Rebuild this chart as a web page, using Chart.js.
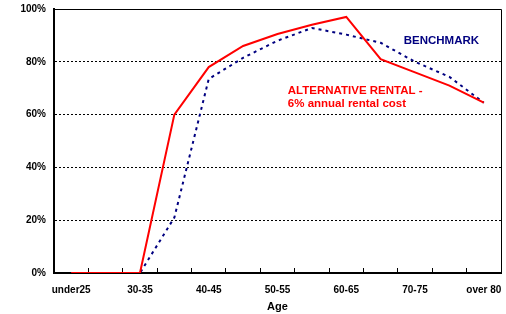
<!DOCTYPE html>
<html>
<head>
<meta charset="utf-8">
<script src="https://cdn.jsdelivr.net/npm/chart.js@4.4.0/dist/chart.umd.min.js"></script>
<style>
  html, body { margin: 0; padding: 0; background: #fff; }
  #wrap { width: 506px; height: 314px; }
</style>
</head>
<body>
<div id="wrap"><canvas id="ageChart" width="506" height="314"></canvas></div>
<script>
// age bands on the x axis
const ageBands = ['under25', '25-30', '30-35', '35-40', '40-45', '45-50', '50-55',
                  '55-60', '60-65', '65-70', '70-75', '75-80', 'over 80'];

// share (%) by age band
const alternativeRental = [0, 0, 0, 60, 78, 86, 90.5, 94, 97, 81, 76, 71, 64.5];
const benchmark = [0, 0, 0, 21, 73.5, 81.5, 88, 92.8, 90.3, 87.2, 80, 74.3, 64.5];

const yTicks = [0, 20, 40, 60, 80, 100];

const FONT = 'Liberation Sans, Arial, Helvetica, sans-serif';

// top + right frame of the plot area, plus the two text labels
const framePlugin = {
    id: 'frame',
    afterDraw(chart) {
        const { ctx, chartArea: a, scales } = chart;
        ctx.save();
        ctx.strokeStyle = '#000';
        ctx.lineWidth = 1;
        ctx.beginPath();
        ctx.moveTo(a.left, a.top + 0.5);
        ctx.lineTo(a.right + 0.5, a.top + 0.5);
        ctx.lineTo(a.right + 0.5, a.bottom);
        ctx.stroke();

        ctx.font = 'bold 11.5px ' + FONT;
        ctx.textAlign = 'left';
        ctx.textBaseline = 'middle';
        ctx.fillStyle = '#000080';
        ctx.fillText('BENCHMARK', scales.x.getPixelForValue(9.67), scales.y.getPixelForValue(87.9));
        ctx.fillStyle = '#ff0000';
        ctx.fillText('ALTERNATIVE RENTAL -', scales.x.getPixelForValue(6.3), scales.y.getPixelForValue(69.1));
        ctx.fillText('6% annual rental cost', scales.x.getPixelForValue(6.3), scales.y.getPixelForValue(64.2));
        ctx.restore();
    }
};

new Chart(document.getElementById('ageChart'), {
    type: 'line',
    data: {
        labels: ageBands,
        datasets: [{
            label: 'ALTERNATIVE RENTAL - 6% annual rental cost',
            data: alternativeRental,
            borderColor: '#ff0000',
            borderWidth: 2,
            pointRadius: 0,
            tension: 0,
            fill: false
        }, {
            label: 'BENCHMARK',
            data: benchmark,
            borderColor: '#000080',
            borderWidth: 2,
            borderDash: [3, 4],
            pointRadius: 0,
            tension: 0,
            fill: false
        }]
    },
    options: {
        responsive: false,
        animation: false,
        layout: { padding: { top: 9, right: 5, left: 0, bottom: 0 } },
        plugins: {
            legend: { display: false },
            tooltip: { enabled: false }
        },
        scales: {
            x: {
                type: 'category',
                offset: true,
                grid: {
                    offset: true,
                    drawOnChartArea: false,
                    drawTicks: true,
                    tickLength: -5,
                    color: '#000',
                    lineWidth: 1
                },
                border: { color: '#000', width: 2 },
                ticks: {
                    autoSkip: false,
                    maxRotation: 0,
                    padding: 16,
                    color: '#000',
                    font: { family: FONT, size: 10, weight: 'bold' },
                    callback: (v, i) => (i % 2 === 0 ? ageBands[i] : '')
                },
                title: {
                    display: true,
                    text: 'Age',
                    color: '#000',
                    font: { family: FONT, size: 11, weight: 'bold' },
                    padding: { top: 0, bottom: 0 }
                },
                afterFit(scale) {
                    scale.height = 41;
                    scale.paddingLeft = 0;
                    scale.paddingRight = 0;
                }
            },
            y: {
                min: 0,
                max: 100,
                afterBuildTicks(scale) { scale.ticks = yTicks.map(v => ({ value: v })); },
                grid: { drawTicks: false, color: '#000', lineWidth: 1 },
                border: { color: '#000', width: 2, dash: [2, 2] },
                ticks: {
                    padding: 8,
                    color: '#000',
                    font: { family: FONT, size: 10, weight: 'bold' },
                    callback: v => v + '%'
                },
                afterFit(scale) {
                    scale.width = 54;
                    scale.paddingTop = 0;
                    scale.paddingBottom = 0;
                }
            }
        }
    },
    plugins: [framePlugin]
});
</script>
</body>
</html>
